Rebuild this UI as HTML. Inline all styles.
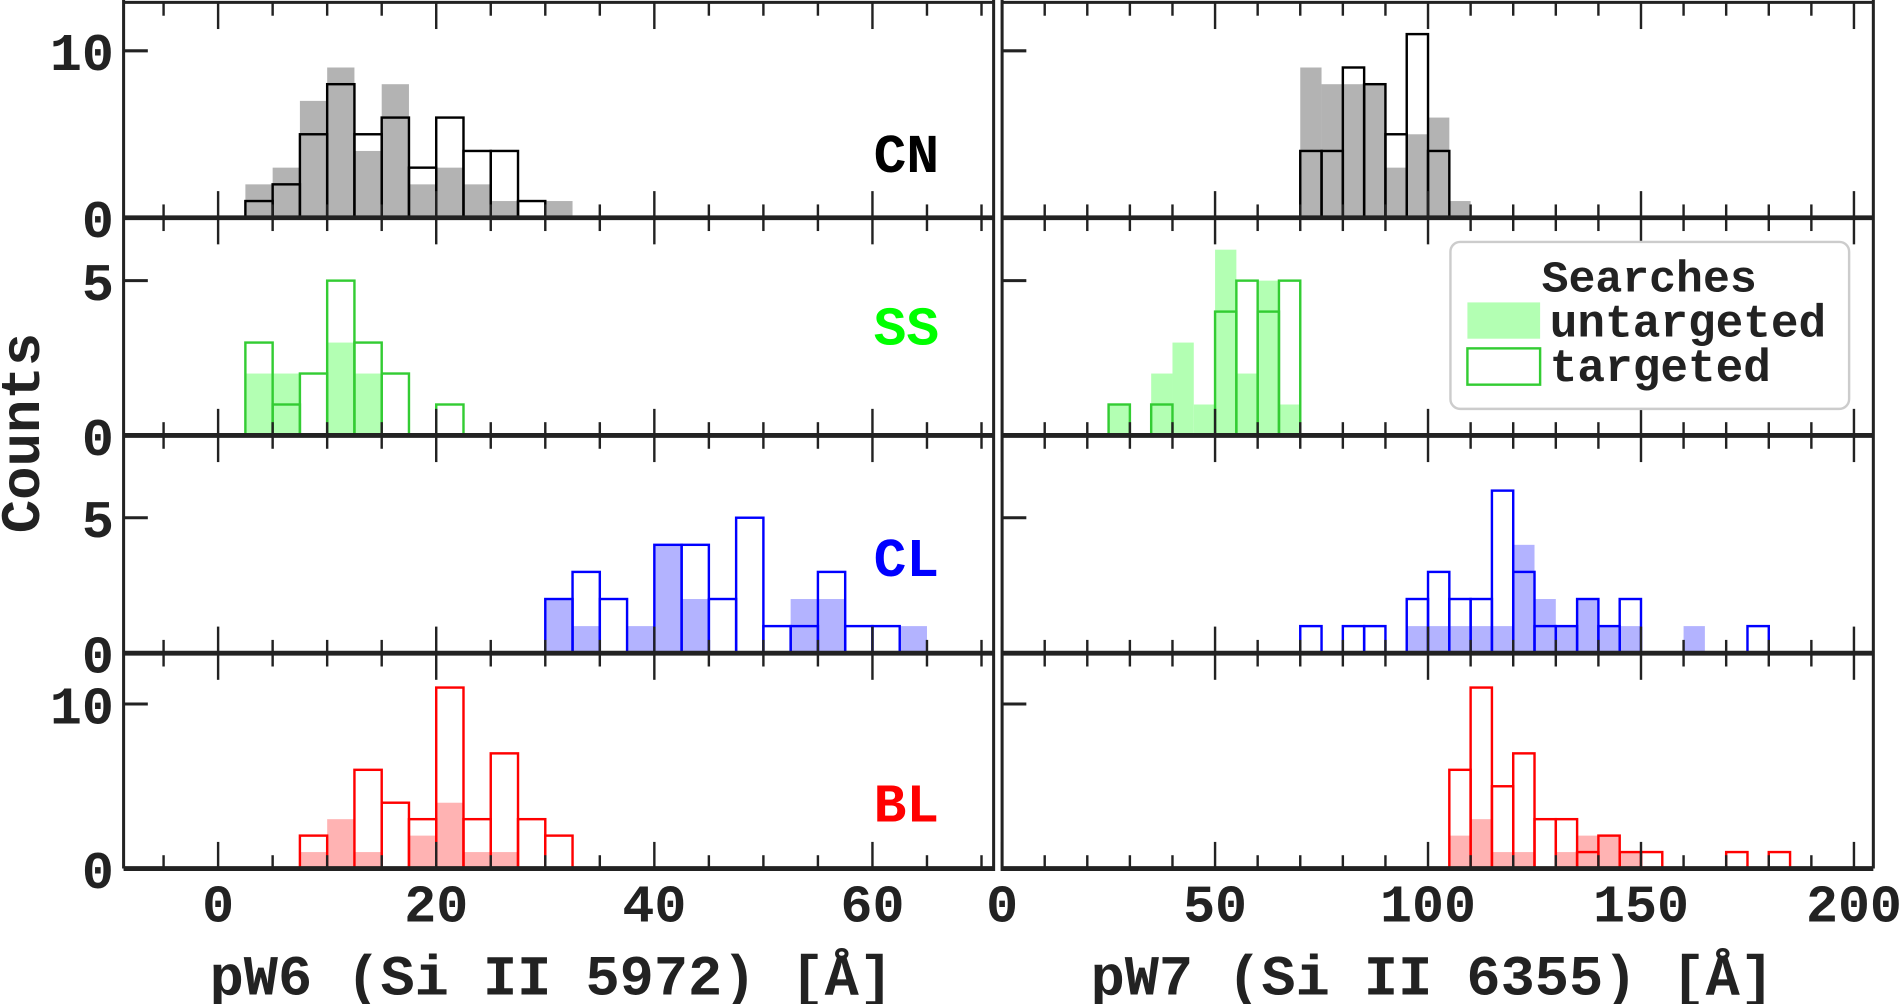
<!DOCTYPE html>
<html><head><meta charset="utf-8"><style>
html,body{margin:0;padding:0;background:#fff;width:1900px;height:1004px;overflow:hidden}
svg{display:block}
text{font-family:"Liberation Mono","DejaVu Sans Mono",monospace;font-weight:bold;fill:#222}
</style></head><body>
<svg id="s" width="1900" height="1004" viewBox="0 0 1568 830" preserveAspectRatio="none" xmlns="http://www.w3.org/2000/svg">
<g id="g"></g>
<text x="0" y="0" font-size="46" transform="translate(32,358) rotate(-90)" text-anchor="middle">Counts</text>
<text x="455" y="822" font-size="47" text-anchor="middle">pW6 (Si II 5972) [Å]</text>
<text x="1182" y="822" font-size="47" text-anchor="middle">pW7 (Si II 6355) [Å]</text>
<text x="748" y="142" font-size="45" text-anchor="middle" style="fill:#000">CN</text>
<text x="748" y="285" font-size="45" text-anchor="middle" style="fill:#00ff00">SS</text>
<text x="748" y="476" font-size="45" text-anchor="middle" style="fill:#0000ff">CL</text>
<text x="748" y="679" font-size="45" text-anchor="middle" style="fill:#ff0000">BL</text>
<rect x="1197" y="200" width="329" height="138" rx="8" fill="#fff" stroke="#ccc" stroke-width="2"/>
<text x="1361" y="241" font-size="37" text-anchor="middle">Searches</text>
<rect x="1211" y="250" width="60" height="30" fill="#b3ffb3"/>
<rect x="1211" y="288" width="60" height="30" fill="none" stroke="#33cc33" stroke-width="2"/>
<text x="1279" y="278" font-size="38">untargeted</text>
<text x="1279" y="315" font-size="38">targeted</text>
</svg>
<script>
var g=document.getElementById('g'),h='';
function L(x1,y1,x2,y2,w,c){h+='<line x1="'+x1+'" y1="'+y1+'" x2="'+x2+'" y2="'+y2+'" stroke="'+(c||'#222')+'" stroke-width="'+w+'"/>';}
function T(x,y,s,a){h+='<text x="'+x+'" y="'+y+'" font-size="44" text-anchor="'+(a||'end')+'">'+s+'</text>';}
var rows=[{b:180,t:2,s:13.8,ticks:[0,10]},{b:360,t:180,s:25.6,ticks:[0,5]},{b:540,t:360,s:22.4,ticks:[0,5]},{b:718,t:540,s:13.6,ticks:[0,10]}];
function xl(u){return 180+9*u}function xr(u){return 827+3.515*u}
var data=[
 [[2.5,[2,3,7,9,4,8,2,3,2,1,0,1],[1,2,5,8,5,6,3,6,4,4,1]],[70,[9,8,8,8,3,5,6,1],[4,4,9,8,5,11,4]],'#b3b3b3','#000'],
 [[2.5,[2,2,0,3,2],[3,1,2,5,3,2,0,1]],[25,[1,0,2,3,1,6,2,5,1],[1,0,1,0,0,4,5,4,5]],'#b3ffb3','#33cc33'],
 [[30,[2,1,0,1,4,2,0,0,0,2,2,0,0,1],[2,3,2,0,4,4,2,5,1,1,3,1,1]],[70,[0,0,0,0,0,1,1,1,1,1,4,2,1,2,1,1,0,0,1],[1,0,1,1,0,2,3,2,2,6,3,1,1,2,1,2,0,0,0,0,0,1]],'#b3b3ff','#0000ff'],
 [[7.5,[1,3,1,0,2,4,1,1],[2,0,6,4,3,11,3,7,3,2]],[105,[2,3,1,1,0,1,2,2,1],[6,11,5,7,3,3,1,2,1,1,0,0,0,1,0,1]],'#ffb3b3','#ff0000']];
rows.forEach(function(r,i){
 var d=data[i];
 [[d[0],xl,2.5],[d[1],xr,5]].forEach(function(p){
  var st=p[0][0],f=p[1],w=p[2];
  p[0][1].forEach(function(v,k){if(v){var x1=f(st+k*w),x2=f(st+(k+1)*w);h+='<rect x="'+x1+'" y="'+(r.b-v*r.s)+'" width="'+(x2-x1)+'" height="'+(v*r.s)+'" fill="'+d[2]+'"/>';}});
  p[0][2].forEach(function(v,k){if(v){var x1=f(st+k*w),x2=f(st+(k+1)*w);h+='<rect x="'+x1+'" y="'+(r.b-v*r.s)+'" width="'+(x2-x1)+'" height="'+(v*r.s)+'" fill="none" stroke="'+d[3]+'" stroke-width="2"/>';}});
 });
 for(var u=-5;u<=70;u+=5){var x=xl(u),m=(u%20==0);L(x,r.t,x,r.t+(m?22:11),2);L(x,r.b,x,r.b-(m?22:11),2);}
 for(var u=0;u<=200;u+=10){var x=xr(u),m=(u%50==0);L(x,r.t,x,r.t+(m?22:11),2);L(x,r.b,x,r.b-(m?22:11),2);}
 r.ticks.forEach(function(v){var y=r.b-v*r.s;L(102,y,122,y,2.5);L(827,y,847,y,2.5);T(94,y+16,v);});
 L(102,r.b,820,r.b,4);L(827,r.b,1546,r.b,4);
});
L(102,2,820,2,2.5);L(827,2,1546,2,2.5);
L(102,0,102,718,2.5);L(820,0,820,720,2.5);L(827,0,827,720,2.5);L(1546,0,1546,718,2.5);
[0,20,40,60].forEach(function(u){T(xl(u),762,u,'middle')});
[0,50,100,150,200].forEach(function(u){T(xr(u),762,u,'middle')});
g.innerHTML=h;
</script>
</body></html>
